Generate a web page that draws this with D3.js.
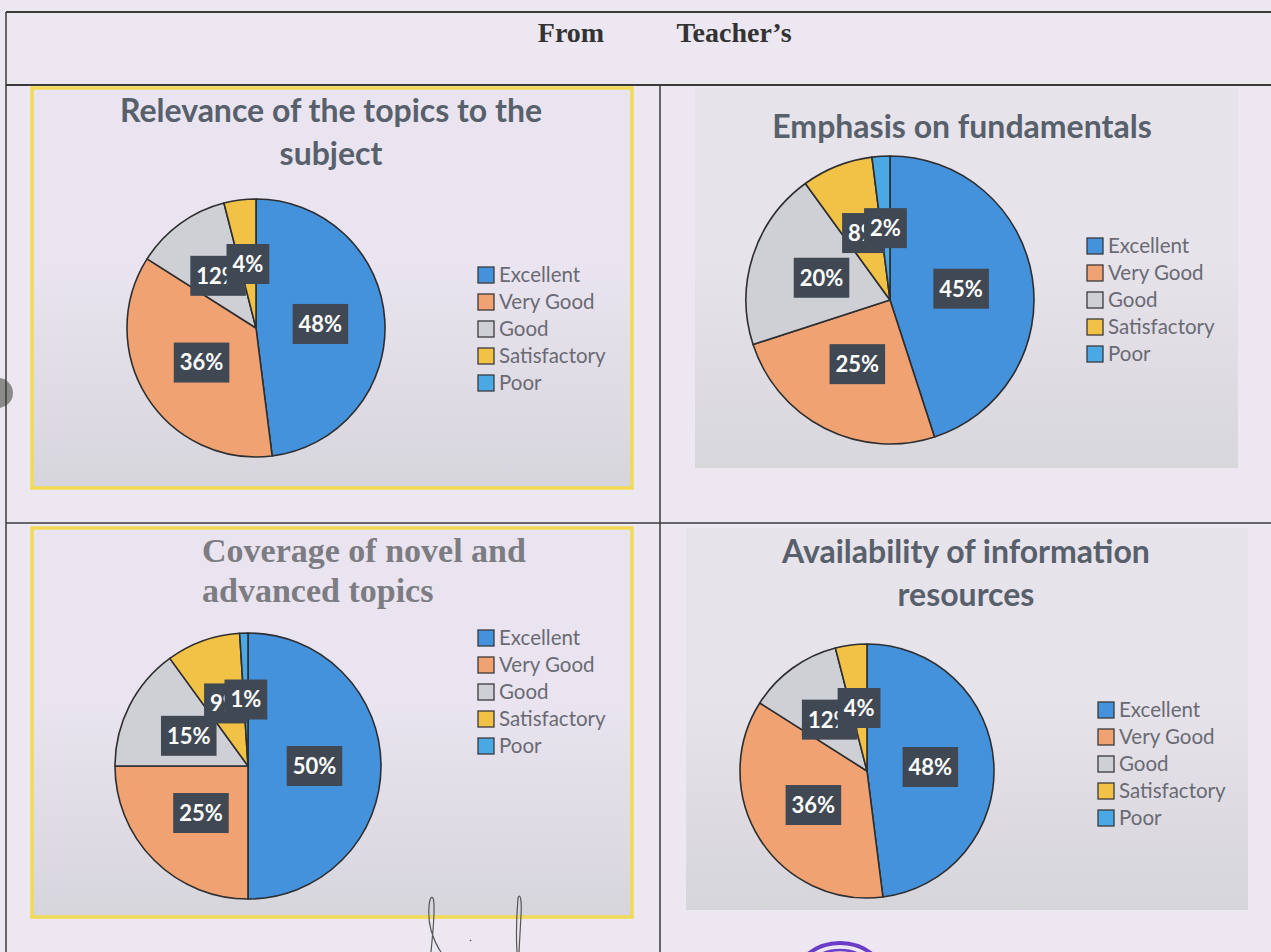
<!DOCTYPE html>
<html>
<head>
<meta charset="utf-8">
<script src="https://cdn.jsdelivr.net/npm/d3@7"></script>
<style>
  html, body { margin: 0; padding: 0; background: #ece7f0; }
  svg { display: block; }
</style>
</head>
<body>
<svg id="page" width="1271" height="952"></svg>
<script>
// ---- data -------------------------------------------------------------
const categories = ["Excellent", "Very Good", "Good", "Satisfactory", "Poor"];
const relevanceValues    = [48, 36, 12, 4, 0];
const fundamentalsValues = [45, 25, 20, 8, 2];
const coverageValues     = [50, 25, 15, 9, 1];
const availabilityValues = [48, 36, 12, 4, 0];
const sliceColors = ["#4592dc", "#f0a273", "#cfcfd6", "#f2c246", "#4aa8e4"];
const headerWords = ["From", "Teacher\u2019s"];

const relevanceTitle    = ["Relevance of the topics to the", "subject"];
const fundamentalsTitle = ["Emphasis on fundamentals"];
const coverageTitle     = ["Coverage of novel and", "advanced topics"];
const availabilityTitle = ["Availability of information", "resources"];

// ---- layout of the four chart blocks ---------------------------------
const panels = [
  { values: relevanceValues, title: relevanceTitle, x: 32, y: 88, w: 600, h: 400, border: true,
    grad: ["#e9e4ef", "#d7d5dc"], serif: false, titleX: 331, titleY: [122, 165], titleSize: 32,
    cx: 256, cy: 328, r: 129, legX: 478, legY: 275 },
  { values: fundamentalsValues, title: fundamentalsTitle, x: 695, y: 88, w: 543, h: 380, border: false,
    grad: ["#e6e3ea", "#d8d7dc"], serif: false, titleX: 962, titleY: [138], titleSize: 32,
    cx: 890, cy: 300, r: 144, legX: 1087, legY: 246 },
  { values: coverageValues, title: coverageTitle, x: 32, y: 528, w: 600, h: 389, border: true,
    grad: ["#e9e4ef", "#d7d5dc"], serif: true, titleX: 202, titleY: [562, 602], titleSize: 34,
    cx: 248, cy: 766, r: 133, legX: 478, legY: 638 },
  { values: availabilityValues, title: availabilityTitle, x: 686, y: 528, w: 562, h: 382, border: false,
    grad: ["#e6e3ea", "#d6d5da"], serif: false, titleX: 966, titleY: [563, 606], titleSize: 32,
    cx: 867, cy: 771, r: 127, legX: 1098, legY: 710 }
];

const svg = d3.select("#page");
const defs = svg.append("defs");

// page background
svg.append("rect").attr("width", 1271).attr("height", 952).attr("fill", "#ece7f0");

// hole punch on the left margin
svg.append("circle").attr("cx", -2).attr("cy", 393).attr("r", 15).attr("fill", "#8a8a88");

// ---- table grid ---------------------------------------------------------
const grid = svg.append("g").attr("stroke", "#3a3a3a").attr("stroke-width", 2);
grid.append("line").attr("x1", 6).attr("x2", 1271).attr("y1", 12).attr("y2", 12);
grid.append("line").attr("x1", 6).attr("x2", 1271).attr("y1", 85).attr("y2", 85);
grid.append("line").attr("x1", 6).attr("x2", 1271).attr("y1", 523).attr("y2", 523).attr("stroke-width", 1.5);
grid.append("line").attr("x1", 6).attr("x2", 6).attr("y1", 12).attr("y2", 952).attr("stroke-width", 1.5);
grid.append("line").attr("x1", 660).attr("x2", 660).attr("y1", 85).attr("y2", 952).attr("stroke-width", 1.5);

// header words
svg.append("g").selectAll("text").data(headerWords).join("text")
  .attr("x", (d, i) => [571, 734][i])
  .attr("y", 42)
  .attr("text-anchor", "middle")
  .attr("font-family", "'Liberation Serif', 'Times New Roman', serif")
  .attr("font-weight", "bold")
  .attr("font-size", 28)
  .attr("fill", "#333")
  .text(d => d);

const color = d3.scaleOrdinal().domain(categories).range(sliceColors);
const pie = d3.pie().sort(null).value(d => d.value).startAngle(0).endAngle(2 * Math.PI);

panels.forEach((p, k) => {
  const g = svg.append("g");

  // chart area with soft vertical gradient
  const gid = "bg" + k;
  const lg = defs.append("linearGradient").attr("id", gid).attr("x1", 0).attr("y1", 0).attr("x2", 0).attr("y2", 1);
  lg.append("stop").attr("offset", "0%").attr("stop-color", p.grad[0]);
  lg.append("stop").attr("offset", "45%").attr("stop-color", p.grad[0]);
  lg.append("stop").attr("offset", "100%").attr("stop-color", p.grad[1]);
  g.append("rect")
    .attr("x", p.x).attr("y", p.y).attr("width", p.w).attr("height", p.h)
    .attr("fill", `url(#${gid})`)
    .attr("stroke", p.border ? "#f1da55" : "none")
    .attr("stroke-width", p.border ? 3.5 : 0);

  // title
  g.append("g").selectAll("text").data(p.title).join("text")
    .attr("x", p.titleX)
    .attr("y", (d, i) => p.titleY[i])
    .attr("text-anchor", p.serif ? "start" : "middle")
    .attr("font-family", p.serif ? "'Liberation Serif', 'Times New Roman', serif" : "Lato, 'Open Sans', sans-serif")
    .attr("font-weight", "bold")
    .attr("font-size", p.titleSize)
    .attr("fill", p.serif ? "#7c7c82" : "#58606c")
    .text(d => d);

  // pie
  const data = categories.map((c, i) => ({ category: c, value: p.values[i] }));
  const arcs = pie(data);
  const arc = d3.arc().innerRadius(0).outerRadius(p.r);
  const pg = g.append("g").attr("transform", `translate(${p.cx},${p.cy})`);
  pg.selectAll("path").data(arcs.filter(a => a.data.value > 0)).join("path")
    .attr("d", arc)
    .attr("fill", d => color(d.data.category))
    .attr("stroke", "#2e2e30")
    .attr("stroke-width", 1.6)
    .attr("stroke-linejoin", "round");

  // data labels: dark boxes at the slice centroid (later boxes sit on top of earlier ones)
  const lab = pg.selectAll("g.lab").data(arcs.filter(a => a.data.value > 0)).join("g")
    .attr("class", "lab")
    .attr("transform", d => `translate(${arc.centroid(d)})`);
  lab.append("rect").attr("fill", "#404953");
  lab.append("text")
    .attr("text-anchor", "middle")
    .attr("dy", "0.36em")
    .attr("font-family", "Lato, 'Open Sans', sans-serif")
    .attr("font-weight", "bold")
    .attr("font-size", 22)
    .attr("fill", "#ffffff")
    .text(d => d.data.value + "%");
  lab.each(function () {
    const t = d3.select(this).select("text").node();
    const w = t.getComputedTextLength() + 12;
    d3.select(this).select("rect").attr("x", -w / 2).attr("y", -20).attr("width", w).attr("height", 40);
  });

  // legend
  const leg = g.append("g").attr("transform", `translate(${p.legX},${p.legY})`);
  const items = leg.selectAll("g").data(categories).join("g")
    .attr("transform", (d, i) => `translate(0,${i * 27})`);
  items.append("rect")
    .attr("x", 0).attr("y", -8).attr("width", 16).attr("height", 16)
    .attr("fill", d => color(d))
    .attr("stroke", "#3a3a3c").attr("stroke-width", 1.3);
  items.append("text")
    .attr("x", 21).attr("dy", "0.35em")
    .attr("font-family", "Lato, 'Open Sans', sans-serif")
    .attr("font-size", 20.5)
    .attr("fill", "#6a6a74")
    .text(d => d);
});

// signature strokes and stamp edge along the bottom margin
svg.append("path")
  .attr("d", "M431,952 C433,930 436,905 433,898 C429,893 427,915 431,930 C434,940 438,948 441,952 M517,952 C516,935 517,910 518,898 C520,892 522,900 521,915 L519,952 M470,940 l1,1")
  .attr("fill", "none").attr("stroke", "#555").attr("stroke-width", 1.2);
svg.append("g").attr("fill", "none").attr("stroke", "#6a3cc8")
  .selectAll("circle").data([52, 45]).join("circle")
  .attr("cx", 840).attr("cy", 995).attr("r", d => d)
  .attr("stroke-width", d => d === 52 ? 4 : 2.5);
</script>
</body>
</html>
